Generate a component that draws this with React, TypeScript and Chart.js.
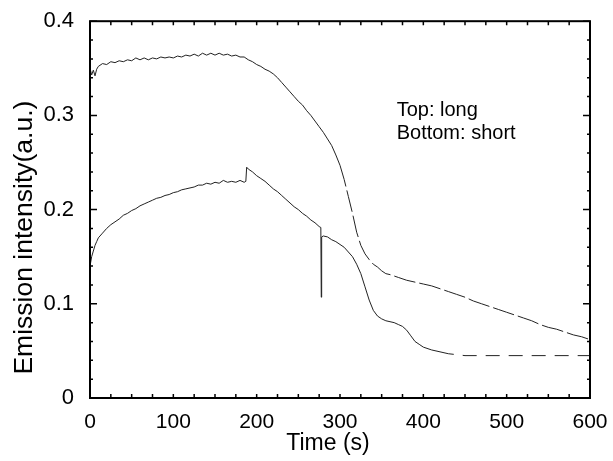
import React, { useEffect, useRef } from "react";
import { Chart, registerables } from "chart.js";

Chart.register(...registerables);

// Top curve: "long"
const longTimes = [0, 2, 4, 6, 8, 10, 15, 20, 25, 30, 35, 40, 45, 50, 55, 60, 65, 70, 75, 80, 85, 90, 95, 100, 105, 110, 115, 120, 125, 130, 135, 140, 145, 150, 155, 160, 165, 170, 175, 180, 185, 190, 195, 200, 205, 210, 215, 220, 225, 230, 235, 240, 245, 250, 255, 260, 265, 270, 275, 280, 285, 290, 295, 300, 305, 310, 315, 320, 325, 330, 335, 340, 345, 350, 355, 360, 370, 380, 390, 400, 410, 420, 430, 440, 450, 460, 470, 480, 490, 500, 510, 520, 530, 540, 550, 560, 570, 580, 590, 600];
const longValues = [0.350, 0.343, 0.348, 0.342, 0.349, 0.352, 0.355, 0.354, 0.357, 0.356, 0.358, 0.357, 0.359, 0.358, 0.361, 0.359, 0.361, 0.359, 0.361, 0.360, 0.362, 0.361, 0.362, 0.361, 0.363, 0.362, 0.364, 0.363, 0.365, 0.363, 0.366, 0.364, 0.366, 0.364, 0.366, 0.364, 0.365, 0.363, 0.364, 0.362, 0.362, 0.359, 0.357, 0.354, 0.352, 0.349, 0.347, 0.344, 0.340, 0.335, 0.330, 0.325, 0.320, 0.315, 0.311, 0.305, 0.300, 0.294, 0.288, 0.282, 0.275, 0.268, 0.258, 0.247, 0.232, 0.214, 0.196, 0.176, 0.162, 0.153, 0.147, 0.142, 0.139, 0.135, 0.132, 0.131, 0.128, 0.125, 0.123, 0.121, 0.119, 0.116, 0.113, 0.110, 0.107, 0.103, 0.100, 0.097, 0.094, 0.091, 0.088, 0.085, 0.082, 0.078, 0.075, 0.073, 0.070, 0.067, 0.065, 0.062];

// Bottom curve: "short"
const shortTimes = [0, 2, 4, 6, 8, 10, 15, 20, 25, 30, 35, 40, 45, 50, 55, 60, 65, 70, 75, 80, 85, 90, 95, 100, 105, 110, 115, 120, 125, 130, 135, 140, 145, 150, 155, 160, 165, 170, 175, 180, 185, 187, 188, 190, 195, 200, 205, 210, 215, 220, 225, 230, 235, 240, 245, 250, 255, 260, 265, 270, 275, 277, 277.5, 278, 280, 285, 290, 295, 300, 305, 310, 315, 320, 325, 330, 335, 340, 345, 350, 355, 360, 365, 370, 375, 380, 385, 390, 395, 400, 410, 420, 430, 440, 450, 500, 550, 600];
const shortValues = [0.140, 0.150, 0.156, 0.162, 0.166, 0.170, 0.175, 0.180, 0.184, 0.187, 0.190, 0.194, 0.196, 0.199, 0.201, 0.204, 0.206, 0.208, 0.210, 0.212, 0.213, 0.215, 0.216, 0.218, 0.219, 0.221, 0.222, 0.223, 0.224, 0.226, 0.226, 0.228, 0.227, 0.229, 0.228, 0.231, 0.229, 0.230, 0.229, 0.231, 0.229, 0.230, 0.245, 0.243, 0.240, 0.236, 0.233, 0.230, 0.226, 0.222, 0.219, 0.215, 0.211, 0.207, 0.203, 0.200, 0.196, 0.193, 0.189, 0.186, 0.182, 0.181, 0.107, 0.171, 0.172, 0.171, 0.168, 0.166, 0.163, 0.160, 0.155, 0.150, 0.142, 0.132, 0.118, 0.104, 0.093, 0.087, 0.084, 0.082, 0.081, 0.080, 0.078, 0.076, 0.072, 0.066, 0.060, 0.057, 0.054, 0.051, 0.049, 0.047, 0.046, 0.045, 0.045, 0.045, 0.045];

const xTicks = [0, 100, 200, 300, 400, 500, 600];
const yTicks = [0, 0.1, 0.2, 0.3, 0.4];
const xTitle = "Time (s)";
const yTitle = "Emission intensity(a.u.)";
const annotationLines = ["Top: long", "Bottom: short"];
const annotationAt = { x: 368, y: 0.316 };

const FONT = "'Liberation Sans', Arial, sans-serif";

const framePlugin = {
  id: "frame",
  afterDraw(chart: any) {
    const { ctx, chartArea } = chart;
    const xs = chart.scales.x;
    const ys = chart.scales.y;
    const { left, right, top, bottom } = chartArea;
    ctx.save();
    ctx.strokeStyle = "#000";
    ctx.lineWidth = 1.5;
    for (let v = 0; v <= 600; v += 25) {
      const px = xs.getPixelForValue(v);
      const len = 4;
      ctx.beginPath();
      ctx.moveTo(px, bottom);
      ctx.lineTo(px, bottom - len);
      ctx.moveTo(px, top);
      ctx.lineTo(px, top + len);
      ctx.stroke();
    }
    for (let i = 0; i <= 20; i++) {
      const v = i * 0.02;
      const py = ys.getPixelForValue(v);
      const len = i % 5 === 0 ? 7 : 3;
      ctx.beginPath();
      ctx.moveTo(left, py);
      ctx.lineTo(left + len, py);
      ctx.moveTo(right, py);
      ctx.lineTo(right - len, py);
      ctx.stroke();
    }
    ctx.lineWidth = 2;
    ctx.strokeRect(left, top, right - left, bottom - top);

    ctx.fillStyle = "#000";
    // annotation
    ctx.font = `20px ${FONT}`;
    ctx.textBaseline = "top";
    ctx.textAlign = "left";
    const ax = xs.getPixelForValue(annotationAt.x);
    const ay = ys.getPixelForValue(annotationAt.y);
    annotationLines.forEach((t, i) => ctx.fillText(t, ax, ay + i * 23));

    // axis titles
    ctx.font = `23px ${FONT}`;
    ctx.textAlign = "center";
    ctx.textBaseline = "alphabetic";
    ctx.fillText(xTitle, (left + right) / 2 - 12, bottom + 52);

    ctx.font = `26.5px ${FONT}`;
    ctx.translate(32, (top + bottom) / 2 + 28);
    ctx.rotate(-Math.PI / 2);
    ctx.fillText(yTitle, 0, 0);
    ctx.restore();
  },
};

const dashFrom = (limit: number, dash: number[]) => (c: any) =>
  c.p0.parsed.x >= limit ? dash : undefined;

export default function App() {
  const ref = useRef<HTMLCanvasElement | null>(null);
  useEffect(() => {
    if (!ref.current) return;
    const chart = new Chart(ref.current, {
      type: "line",
      data: {
        datasets: [
          {
            label: "long",
            data: longTimes.map((t, i) => ({ x: t, y: longValues[i] })),
            borderColor: "#222",
            borderWidth: 1,
            pointRadius: 0,
            tension: 0,
            segment: { borderDash: dashFrom(300, [22, 4]) },
          },
          {
            label: "short",
            data: shortTimes.map((t, i) => ({ x: t, y: shortValues[i] })),
            borderColor: "#222",
            borderWidth: 1,
            pointRadius: 0,
            tension: 0,
            segment: { borderDash: dashFrom(420, [14, 9]) },
          },
        ],
      },
      options: {
        responsive: false,
        animation: false,
        devicePixelRatio: 1,
        layout: { padding: { left: 0, right: 23, top: 20, bottom: 0 } },
        plugins: { legend: { display: false }, tooltip: { enabled: false } },
        scales: {
          x: {
            type: "linear",
            min: 0,
            max: 600,
            afterBuildTicks: (s: any) => {
              s.ticks = xTicks.map((v) => ({ value: v }));
            },
            afterFit: (s: any) => {
              s.height = 63;
            },
            grid: { display: false },
            border: { display: false },
            ticks: {
              color: "#000",
              font: { family: FONT, size: 21 },
              padding: 4,
              maxRotation: 0,
            },
            title: { display: false },
          },
          y: {
            type: "linear",
            min: 0,
            max: 0.4,
            afterBuildTicks: (s: any) => {
              s.ticks = yTicks.map((v) => ({ value: v }));
            },
            afterFit: (s: any) => {
              s.width = 90;
            },
            grid: { display: false },
            border: { display: false },
            ticks: {
              color: "#000",
              font: { family: FONT, size: 22 },
              padding: 8,
              callback: (v: any) => (v === 0 ? "0" : Number(v).toFixed(1)),
            },
            title: { display: false },
          },
        },
      },
      plugins: [framePlugin],
    });
    return () => chart.destroy();
  }, []);
  return (
    <div style={{ position: "fixed", left: 0, top: 0, width: 613, height: 461, background: "#fff" }}>
      <canvas ref={ref} width={613} height={461} />
    </div>
  );
}
